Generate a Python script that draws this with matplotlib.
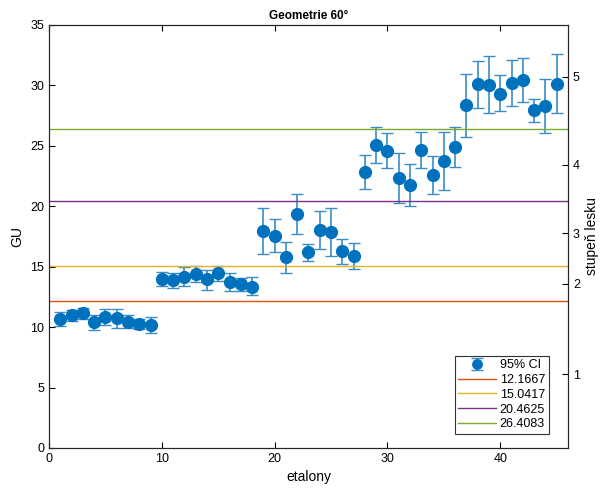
import numpy as np
import matplotlib
matplotlib.use("Agg")
from matplotlib import pyplot as plt

plt.rcParams['font.family'] = ['Liberation Sans', 'DejaVu Sans']

# gloss values per etalon (GU) with 95% CI bounds
gu = [10.64, 10.97, 11.14, 10.42, 10.86, 10.78, 10.45, 10.23, 10.17,
      13.95, 13.87, 14.14, 14.36, 13.95, 14.45, 13.70, 13.54, 13.34,
      17.95, 17.56, 15.77, 19.33, 16.19, 18.00, 17.89, 16.29, 15.90,
      22.85, 25.09, 24.59, 22.33, 21.75, 24.67, 22.58, 23.74, 24.92,
      28.35, 30.08, 30.05, 29.28, 30.21, 30.41, 27.98, 28.26, 30.11]
ci_hi = [11.27, 11.41, 11.58, 11.03, 11.52, 11.52, 10.98, 10.64, 10.83,
         14.58, 14.50, 14.95, 15.05, 14.75, 15.05, 14.45, 14.04, 14.12,
         19.88, 18.94, 17.04, 21.00, 16.90, 19.63, 19.88, 17.31, 16.98,
         24.21, 26.58, 26.03, 24.43, 23.49, 26.11, 24.15, 26.11, 26.58,
         30.96, 32.01, 32.42, 30.83, 32.09, 32.23, 28.89, 30.49, 32.56]
ci_lo = [10.09, 10.53, 10.64, 9.76, 10.15, 9.95, 9.93, 9.82, 9.49,
         13.40, 13.23, 13.40, 13.70, 13.07, 13.79, 13.01, 13.01, 12.63,
         16.07, 16.21, 14.47, 17.70, 15.47, 16.43, 15.88, 15.22, 14.83,
         21.40, 23.55, 23.13, 20.24, 20.02, 23.13, 21.01, 21.31, 23.22,
         25.75, 28.10, 27.68, 27.85, 28.29, 28.64, 26.99, 26.08, 27.68]

# class boundaries and gloss grades
limits = [12.1667, 15.0417, 20.4625, 26.4083]
limit_colors = ['#D95319', '#EDB120', '#7E2F8E', '#77AC30']
grades = ['1', '2', '3', '4', '5']

x = np.arange(1, len(gu) + 1)
gu = np.array(gu)
err = [gu - np.array(ci_lo), np.array(ci_hi) - gu]

fig = plt.figure(figsize=(6.02, 4.91), dpi=100)
ax = fig.add_axes([0.0814, 0.0876, 0.8621, 0.8615])

eb = ax.errorbar(x, gu, yerr=err, fmt='o', color='#0072BD', ecolor='#3a8cc8',
                 markersize=8.5, capsize=4, elinewidth=1.2, capthick=1.0,
                 label='95% CI')
lines = []
for v, c in zip(limits, limit_colors):
    lines.append(ax.axhline(v, color=c, linewidth=1.0, label=str(v)))

ax.set_xlim(0, 46)
ax.set_ylim(0, 35)
ax.set_xticks([0, 10, 20, 30, 40])
ax.set_yticks(np.arange(0, 36, 5))
ax.tick_params(direction='in', labelsize=9, length=4, top=True, right=False)
ax.set_xlabel('etalony', fontsize=10)
ax.set_ylabel('GU', fontsize=10)
ax.set_title('Geometrie 60°', fontsize=8.5, fontweight='bold', pad=4)

leg = ax.legend([eb] + lines, ['95% CI'] + [str(v) for v in limits],
                loc='lower right', bbox_to_anchor=(0.963, 0.033),
                borderaxespad=0, fontsize=9, fancybox=False,
                edgecolor='#333333', framealpha=1,
                handlelength=3.0, handletextpad=0.3, labelspacing=0.22,
                borderpad=0.3, markerscale=0.8)
leg.get_frame().set_linewidth(0.8)

# right axis: grade ticks in the middle of each class
bounds = [0] + limits + [35]
mid = [(bounds[i] + bounds[i + 1]) / 2 for i in range(len(grades))]
ax2 = ax.twinx()
ax2.set_ylim(0, 35)
ax2.set_yticks(mid)
ax2.set_yticklabels(grades)
ax2.tick_params(direction='in', labelsize=9, length=4)
ax2.set_ylabel('stupeň lesku', fontsize=10)

for a in (ax, ax2):
    for s in a.spines.values():
        s.set_color('#262626')
        s.set_linewidth(0.8)

fig.savefig('out.png', dpi=100)
